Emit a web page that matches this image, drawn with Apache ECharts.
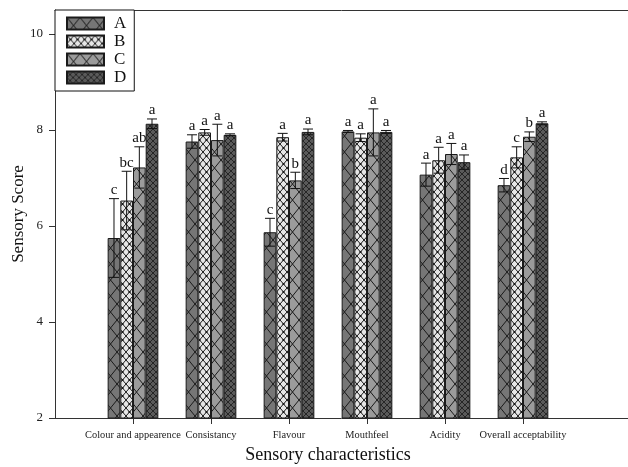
<!DOCTYPE html>
<html>
<head>
<meta charset="utf-8">
<script src="https://cdn.jsdelivr.net/npm/echarts@6/dist/echarts.min.js"></script>
<style>
  html, body { margin: 0; padding: 0; background: #fff; }
  #chart { width: 628px; height: 467px; }
</style>
</head>
<body>
<div id="chart"></div>
<script>
// Sensory characteristics and mean scores with standard deviations
const categories = ['Colour and appearence', 'Consistancy', 'Flavour', 'Mouthfeel', 'Acidity', 'Overall acceptability'];
const seriesNames = ['A', 'B', 'C', 'D'];

const valuesA = [5.75, 7.76, 5.87, 7.97, 7.07, 6.85];
const valuesB = [6.53, 7.95, 7.85, 7.84, 7.37, 7.43];
const valuesC = [7.22, 7.79, 6.95, 7.95, 7.50, 7.86];
const valuesD = [8.13, 7.90, 7.96, 7.96, 7.33, 8.14];

const errorsA = [0.82, 0.14, 0.29, 0.02, 0.24, 0.14];
const errorsB = [0.61, 0.06, 0.08, 0.08, 0.27, 0.22];
const errorsC = [0.43, 0.33, 0.17, 0.49, 0.22, 0.10];
const errorsD = [0.10, 0.02, 0.06, 0.03, 0.15, 0.03];

// significance letters above each bar
const lettersA = ['c', 'a', 'c', 'a', 'a', 'd'];
const lettersB = ['bc', 'a', 'a', 'a', 'a', 'c'];
const lettersC = ['ab', 'a', 'b', 'a', 'a', 'b'];
const lettersD = ['a', 'a', 'a', 'a', 'a', 'a'];

const yTicks = [2, 4, 6, 8, 10];

const allValues = [valuesA, valuesB, valuesC, valuesD];
const allErrors = [errorsA, errorsB, errorsC, errorsD];
const allLetters = [lettersA, lettersB, lettersC, lettersD];

const SERIF = '"Liberation Serif", "Times New Roman", serif';

// hatch fills drawn on small canvas tiles
function hatch(w, h, bg, line, dots) {
  const c = document.createElement('canvas');
  c.width = w; c.height = h;
  const g = c.getContext('2d');
  g.fillStyle = bg;
  g.fillRect(0, 0, w, h);
  g.strokeStyle = line;
  g.lineWidth = 1;
  g.beginPath();
  g.moveTo(0, 0); g.lineTo(w, h);
  g.moveTo(w, 0); g.lineTo(0, h);
  g.stroke();
  if (dots) {
    g.fillStyle = line;
    g.fillRect(w / 2 - 1, h / 2 - 1, 2, 2);
  }
  return { image: c, repeat: 'repeat' };
}

const fills = [
  hatch(13, 16, '#767676', '#1a1a1a', false),
  hatch(7, 8, '#e6e6e6', '#1a1a1a', true),
  hatch(13, 16, '#9b9b9b', '#1a1a1a', false),
  hatch(6, 6, '#5a5a5a', '#262626', true)
];

const barSeries = seriesNames.map((name, s) => ({
  name: name,
  type: 'bar',
  xAxisIndex: 1,
  yAxisIndex: 1,
  barGap: '0%',
  barCategoryGap: '35%',
  data: allValues[s],
  itemStyle: { color: fills[s], borderColor: '#1a1a1a', borderWidth: 1 },
  emphasis: { disabled: true },
  z: 2
}));

const errorSeries = seriesNames.map((name, s) => ({
  name: 'err' + name,
  type: 'custom',
  xAxisIndex: 1,
  yAxisIndex: 1,
  clip: false,
  z: 5,
  data: allValues[s].map((v, i) => [i, v, allErrors[s][i]]),
  encode: { x: 0, y: 1 },
  renderItem: function (params, api) {
    const i = api.value(0), v = api.value(1), e = api.value(2);
    const bw = api.size([1, 0])[0] * 0.65 / 4;
    const dx = (s - 1.5) * bw;
    const top = api.coord([i, v + e]);
    const bot = api.coord([i, v - e]);
    const x = top[0] + dx;
    const cap = 5;
    return {
      type: 'group',
      children: [
        { type: 'line', shape: { x1: x, y1: top[1], x2: x, y2: bot[1] }, style: { stroke: '#111', lineWidth: 1 } },
        { type: 'line', shape: { x1: x - cap, y1: top[1], x2: x + cap, y2: top[1] }, style: { stroke: '#111', lineWidth: 1 } },
        { type: 'line', shape: { x1: x - cap, y1: bot[1], x2: x + cap, y2: bot[1] }, style: { stroke: '#111', lineWidth: 1 } },
        { type: 'text', style: { text: allLetters[s][params.dataIndex], x: x, y: top[1] - 1, align: 'center', verticalAlign: 'bottom', font: '15px ' + SERIF, fill: '#111' } }
      ]
    };
  }
}));

const chart = echarts.init(document.getElementById('chart'), null, { renderer: 'canvas' });
chart.setOption({
  animation: false,
  backgroundColor: '#fff',
  grid: [
    { left: 55, right: 0, top: 10, bottom: 49, outerBoundsMode: 'none', containLabel: false },
    { left: 94, right: 66, top: 10, bottom: 49, outerBoundsMode: 'none', containLabel: false }
  ],
  legend: {
    data: seriesNames,
    orient: 'vertical',
    left: 55,
    top: 10,
    itemWidth: 37,
    itemHeight: 12,
    itemGap: 1,
    padding: [5, 8, 5, 11],
    borderColor: '#111',
    borderWidth: 1,
    backgroundColor: '#fff',
    icon: 'rect',
    textStyle: { fontFamily: SERIF, fontSize: 17, color: '#111', padding: [0, 0, 0, 5] },
    z: 10
  },
  xAxis: [
    {
      type: 'value', gridIndex: 0, min: 0, max: 1, position: 'bottom',
      axisLine: { show: true, onZero: false, lineStyle: { color: '#333', width: 1 } },
      axisTick: { show: false }, axisLabel: { show: false }, splitLine: { show: false }
    },
    {
      type: 'category', gridIndex: 1, data: categories, position: 'bottom',
      axisLine: { show: false },
      axisTick: { show: true, alignWithLabel: true, length: 6, lineStyle: { color: '#333' } },
      axisLabel: { fontFamily: SERIF, fontSize: 10.4, color: '#222', margin: 12, interval: 0 },
      name: 'Sensory characteristics', nameLocation: 'middle', nameGap: 28, nameMoveOverlap: false,
      nameTextStyle: { fontFamily: SERIF, fontSize: 18, color: '#111' }
    },
    {
      type: 'value', gridIndex: 0, min: 0, max: 1, position: 'top',
      axisLine: { show: true, onZero: false, lineStyle: { color: '#333', width: 1 } },
      axisTick: { show: false }, axisLabel: { show: false }, splitLine: { show: false }
    }
  ],
  yAxis: [
    {
      type: 'value', gridIndex: 0, min: 2, max: 10.5, interval: 2,
      axisLine: { show: true, onZero: false, lineStyle: { color: '#333', width: 1 } },
      axisTick: { show: true, length: 6, customValues: yTicks, lineStyle: { color: '#333' } },
      axisLabel: { fontFamily: SERIF, fontSize: 13, color: '#222', margin: 12, customValues: yTicks },
      splitLine: { show: false },
      name: 'Sensory Score', nameLocation: 'middle', nameGap: 28, nameMoveOverlap: false,
      nameTextStyle: { fontFamily: SERIF, fontSize: 17, color: '#111' }
    },
    {
      type: 'value', gridIndex: 1, min: 2, max: 10.5, interval: 2,
      show: false
    }
  ],
  series: barSeries.concat(errorSeries)
});
</script>
</body>
</html>
